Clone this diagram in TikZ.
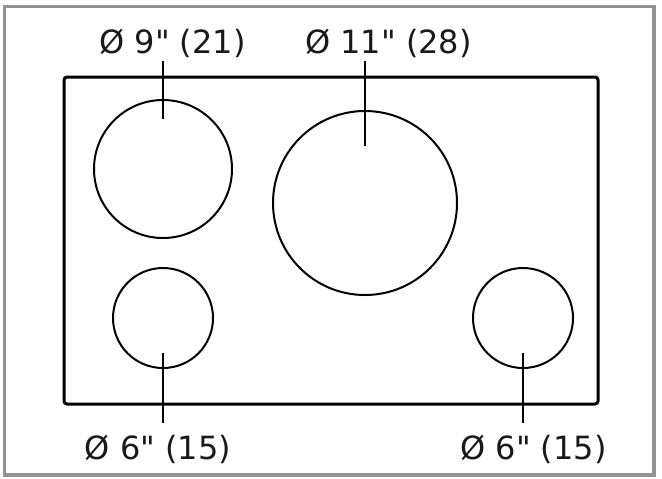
\documentclass[tikz,border=0pt]{standalone}
\usepackage{fontspec}
\newfontfamily\lblfont{DejaVu Sans}
\begin{document}
\begin{tikzpicture}[
  x=0.5pt, y=-0.5pt,
  hob/.style={draw, circle, inner sep=0pt, line width=1pt},
  size/.style={inner sep=0pt, anchor=base, text=black!90, font=\lblfont\fontsize{16}{19}\selectfont},
  leader/.style={line width=1pt},
]
\useasboundingbox (0,0) rectangle (662,478);
\draw[gray!85, line width=1.8pt] (4.5,6.5) rectangle (654,475);
\draw[line width=1.5pt, rounded corners=1.5pt] (64,77) rectangle (598,404);
\node[hob, minimum size=69pt] (c9) at (163,169) {};
\node[hob, minimum size=92pt] (c11) at (365,203) {};
\node[hob, minimum size=50pt] (c6l) at (163,318) {};
\node[hob, minimum size=50pt] (c6r) at (523,318) {};
\node[size] (l9) at (172.5,53) {Ø 9" (21)};
\node[size] (l11) at (388.5,53) {Ø 11" (28)};
\node[size] (l6l) at (158,459) {Ø 6" (15)};
\node[size] (l6r) at (533.5,459) {Ø 6" (15)};
\coordinate (t9) at (163,61);
\coordinate (e9) at (163,119);
\coordinate (t11) at (365,61);
\coordinate (e11) at (365,146);
\coordinate (t6l) at (163,423);
\coordinate (e6l) at (163,353);
\coordinate (t6r) at (523,423);
\coordinate (e6r) at (523,353);
\draw[leader] (t9) -- (e9);
\draw[leader] (t11) -- (e11);
\draw[leader] (t6l) -- (e6l);
\draw[leader] (t6r) -- (e6r);
\end{tikzpicture}
\end{document}
